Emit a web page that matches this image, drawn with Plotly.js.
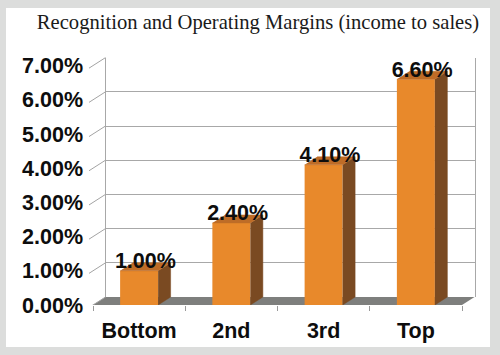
<!DOCTYPE html>
<html>
<head>
<meta charset="utf-8">
<script src="https://cdn.plot.ly/plotly-3.0.1.min.js"></script>
<style>html,body{margin:0;padding:0;background:#dcdddc;}#chart{width:500px;height:355px;}</style>
</head>
<body>
<div id="chart"></div>
<script>
// ---- data ----
const categories = ['Bottom', '2nd', '3rd', 'Top'];
const margins = [1.00, 2.40, 4.10, 6.60];
const yTickVals = [0, 1, 2, 3, 4, 5, 6, 7];
const yTickText = ['0.00%', '1.00%', '2.00%', '3.00%', '4.00%', '5.00%', '6.00%', '7.00%'];
const barLabels = ['1.00%', '2.40%', '4.10%', '6.60%'];
const titleText = 'Recognition and Operating Margins (income to sales)';

// ---- geometry (pixels) ----
const W = 500, H = 355;
const FX0 = 93, CAT_PX = 92.25, FY0 = 305, PCT_PX = 34.2, DXP = 12.5, DYP = 8;
const d = DXP / CAT_PX, dz = DYP / PCT_PX;
const barW = 38 / CAT_PX;
const xf = p => p / W, yf = p => 1 - p / H;
const yMax = 7;
const B_LEFT_EXT = 4, B_RIGHT_EXT = 2, B_TOP = 7.5;

const idx = categories.map((c, i) => i);

// side faces & top faces computed from the data
const sideX = [], sideY = [], topX = [], topY = [];
margins.forEach((v, i) => {
  const x1 = i + barW / 2, x0 = i - barW / 2;
  sideX.push(x1, x1 + d, x1 + d, x1, null);
  sideY.push(0, dz, v + dz, v, null);
  topX.push(x0, x1, x1 + d, x0 + d, null);
  topY.push(v, v, v + dz, v + dz, null);
});
// slanted left wall tick lines
const wallX = [], wallY = [];
const ext = B_LEFT_EXT / CAT_PX;
yTickVals.forEach(v => {
  wallX.push(-0.5 - ext, -0.5 + d, null);
  wallY.push(v - ext * dz / d, v + dz, null);
});
const boundaries = [-0.5].concat(idx.map(i => i + 0.5));

const boldFont = {family: 'Liberation Sans, Arial, sans-serif', size: 21.5, color: '#0d0d0d', weight: 'bold'};

const traces = [
  {type: 'scatter', x: [], y: [], xaxis: 'x', yaxis: 'y', hoverinfo: 'skip', showlegend: false},
  {type: 'bar', x: idx, y: margins, width: barW, xaxis: 'x2', yaxis: 'y2',
   marker: {color: '#E8892B', line: {width: 0}}, hoverinfo: 'skip'},
  {type: 'scatter', mode: 'lines', x: sideX, y: sideY, xaxis: 'x2', yaxis: 'y2', fill: 'toself',
   fillcolor: '#7A4A22', line: {color: '#7A4A22', width: 0.5}, hoverinfo: 'skip'},
  {type: 'scatter', mode: 'lines', x: topX, y: topY, xaxis: 'x2', yaxis: 'y2', fill: 'toself',
   fillcolor: '#BE6C27', line: {color: '#BE6C27', width: 0.5}, hoverinfo: 'skip'},
  {type: 'scatter', mode: 'lines', x: wallX, y: wallY, xaxis: 'x2', yaxis: 'y2',
   line: {color: '#a3a3a3', width: 1}, hoverinfo: 'skip'},
  {type: 'scatter', mode: 'text', x: idx.map(i => i + d / 2), y: margins.map(v => v + dz / 2 + 4 / PCT_PX),
   text: barLabels, textposition: 'middle center', textfont: boldFont,
   xaxis: 'x2', yaxis: 'y2', cliponaxis: false, hoverinfo: 'skip'}
];

const layout = {
  width: W, height: H,
  margin: {l: 0, r: 0, t: 0, b: 0, pad: 0},
  paper_bgcolor: '#dcdddc',
  plot_bgcolor: 'rgba(0,0,0,0)',
  showlegend: false,
  title: {text: titleText, font: {family: 'Liberation Serif, Times New Roman, serif', size: 20.6, color: '#1a1a1a'},
          x: xf(258), xanchor: 'center', y: yf(22), yanchor: 'middle'},
  xaxis: {domain: [xf(FX0 + DXP), xf(FX0 + 4 * CAT_PX + DXP)], range: [0, 1], visible: false, anchor: 'y', fixedrange: true},
  yaxis: {domain: [yf(FY0 - DYP), yf(FY0 - DYP - yMax * PCT_PX)], range: [0, yMax], anchor: 'x',
          tickmode: 'array', tickvals: yTickVals, showgrid: true, gridcolor: '#a8a8a8', gridwidth: 1,
          showline: true, mirror: true, linecolor: '#a8a8a8', linewidth: 1,
          showticklabels: false, ticks: '', zeroline: false, fixedrange: true},
  xaxis2: {domain: [xf(FX0 - B_LEFT_EXT), xf(FX0 + 4 * CAT_PX + DXP + B_RIGHT_EXT)],
           range: [-0.5 - B_LEFT_EXT / CAT_PX, 3.5 + d + B_RIGHT_EXT / CAT_PX], anchor: 'y2',
           tickmode: 'array', tickvals: idx, ticktext: categories, ticks: '', showgrid: false, zeroline: false, showline: false,
           tickfont: boldFont, ticklabelstandoff: 10,
           minor: {tickmode: 'array', tickvals: boundaries, ticks: 'outside', ticklen: 5, tickcolor: '#9a9a9a', tickwidth: 1, showgrid: false},
           fixedrange: true},
  yaxis2: {domain: [yf(FY0), yf(FY0 - B_TOP * PCT_PX)], range: [0, B_TOP], anchor: 'x2',
           tickmode: 'array', tickvals: yTickVals, ticktext: yTickText, ticks: '', showgrid: false,
           zeroline: false, showline: false, tickfont: boldFont, ticklabelstandoff: 5, fixedrange: true},
  shapes: [
    {type: 'rect', xref: 'paper', yref: 'paper', x0: xf(6), x1: xf(490), y0: yf(347), y1: yf(8),
     fillcolor: '#ffffff', line: {width: 0}, layer: 'below'},
    {type: 'path', xref: 'x2', yref: 'y2', layer: 'below', fillcolor: '#7e7f7d', line: {width: 0},
     path: `M ${-0.5},0 L 3.5,0 L ${3.5 + d},${dz} L ${-0.5 + d},${dz} Z`}
  ]
};

Plotly.newPlot('chart', traces, layout, {staticPlot: true, displayModeBar: false});
</script>
</body>
</html>
